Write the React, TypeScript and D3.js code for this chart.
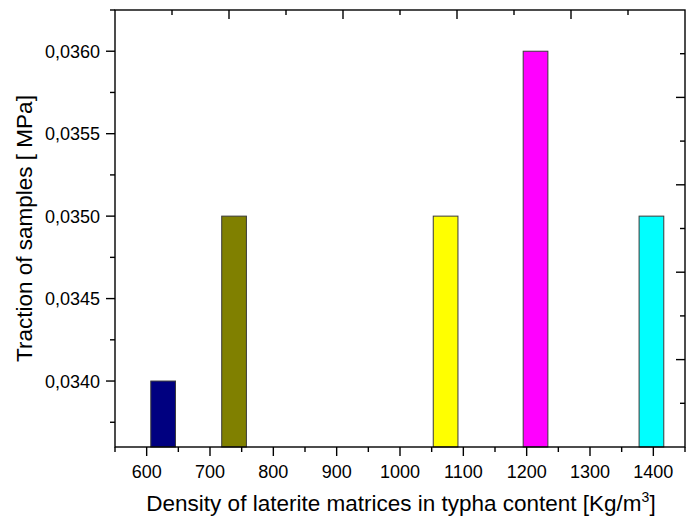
import React from "react";
import * as d3 from "d3";

const densities = [626, 738, 1072, 1214, 1397];
const tractions = [0.034, 0.035, 0.035, 0.036, 0.035];
const barColors = ["#000080", "#808000", "#FFFF00", "#FF00FF", "#00FFFF"];
const xTicks = [600, 700, 800, 900, 1000, 1100, 1200, 1300, 1400];
const xMinorTicks = [550, 650, 750, 850, 950, 1050, 1150, 1250, 1350, 1450];
const yTicks = [0.034, 0.0345, 0.035, 0.0355, 0.036];
const yMinorTicks = [0.03375, 0.03425, 0.03475, 0.03525, 0.03575, 0.03625];
const barWidthUnits = 39;

const W = 686;
const H = 523;
const M = { left: 115, right: 685, top: 10, bottom: 447 };
const FONT = "'Liberation Sans', Arial, sans-serif";

export default function App() {
  const x = d3.scaleLinear().domain([550, 1450]).range([M.left, M.right]);
  const y = d3.scaleLinear().domain([0.0336, 0.03625]).range([M.bottom, M.top]);
  const sec = d3.scaleLinear().domain([0, 10]);
  const secX = sec.copy().range([M.left, M.right]);
  const secY = sec.copy().range([M.bottom, M.top]);
  const secTicks = d3.range(0, 11);
  const fmt = (v: number) => v.toFixed(4).replace(".", ",");
  const bw = x(barWidthUnits) - x(0);
  const axisColor = "#000";
  const sw = 1.4;

  return (
    <svg width={W} height={H} style={{ position: "absolute", left: 0, top: 0, background: "#fff" }}>
      <rect x={0} y={0} width={W} height={H} fill="#fff" />
      {densities.map((d, i) => (
        <rect
          key={i}
          x={x(d) - bw / 2}
          y={y(tractions[i])}
          width={bw}
          height={M.bottom - y(tractions[i])}
          fill={barColors[i]}
          stroke="#3a3a3a"
          strokeWidth={1}
        />
      ))}
      {/* frame */}
      <rect x={M.left} y={M.top} width={M.right - M.left} height={M.bottom - M.top} fill="none" stroke={axisColor} strokeWidth={sw} />
      {/* bottom axis */}
      {xTicks.map((t) => (
        <g key={"xt" + t}>
          <line x1={x(t)} x2={x(t)} y1={M.bottom} y2={M.bottom + 9} stroke={axisColor} strokeWidth={sw} />
          <text x={x(t)} y={478} textAnchor="middle" fontFamily={FONT} fontSize={18} fill="#000">{t}</text>
        </g>
      ))}
      {xMinorTicks.map((t) => (
        <line key={"xm" + t} x1={x(t)} x2={x(t)} y1={M.bottom} y2={M.bottom + 5} stroke={axisColor} strokeWidth={sw} />
      ))}
      {/* left axis */}
      {yTicks.map((t) => (
        <g key={"yt" + t}>
          <line x1={M.left - 9} x2={M.left} y1={y(t)} y2={y(t)} stroke={axisColor} strokeWidth={sw} />
          <text x={100} y={y(t) + 6.5} textAnchor="end" fontFamily={FONT} fontSize={18} fill="#000">{fmt(t)}</text>
        </g>
      ))}
      {yMinorTicks.map((t) => (
        <line key={"ym" + t} x1={M.left - 5} x2={M.left} y1={y(t)} y2={y(t)} stroke={axisColor} strokeWidth={sw} />
      ))}
      {/* top and right secondary ticks */}
      {secTicks.slice(1, -1).map((t) => (
        <g key={"s" + t}>
          <line x1={secX(t)} x2={secX(t)} y1={M.top} y2={M.top + (t % 2 === 0 ? 9 : 5)} stroke={axisColor} strokeWidth={sw} />
          <line x1={M.right} x2={M.right - (t % 2 === 0 ? 9 : 5)} y1={secY(t)} y2={secY(t)} stroke={axisColor} strokeWidth={sw} />
        </g>
      ))}
      {/* titles */}
      <text x={(M.left + M.right) / 2 + 0} y={511} textAnchor="middle" fontFamily={FONT} fontSize={22.5} fill="#000" transform="translate(1,0)">
        Density of laterite matrices in typha content [Kg/m
        <tspan dy={-9} fontSize={14}>3</tspan>
        <tspan dy={9}>]</tspan>
      </text>
      <text
        transform={`translate(32, ${(M.top + M.bottom) / 2}) rotate(-90)`}
        textAnchor="middle"
        fontFamily={FONT}
        fontSize={22.5}
        fill="#000"
      >
        Traction of samples [ MPa]
      </text>
    </svg>
  );
}
